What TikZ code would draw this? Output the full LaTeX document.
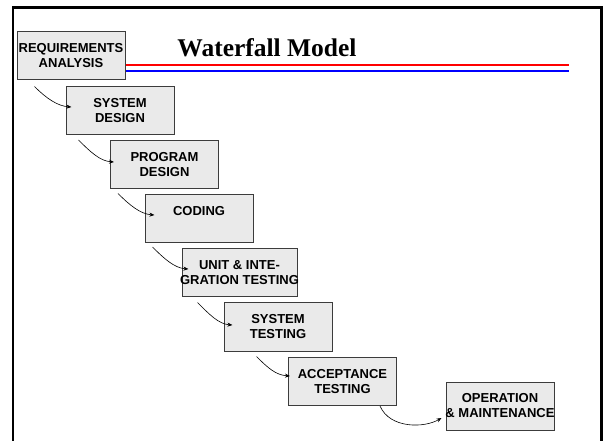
\documentclass[tikz,border=0pt]{standalone}
\usepackage{fontspec}
\setmainfont{Liberation Sans}
\newfontfamily\titlefont{Liberation Serif}
\usetikzlibrary{arrows.meta}
\definecolor{boxgray}{RGB}{234,234,234}
\definecolor{edgegray}{RGB}{60,60,60}
\definecolor{rulered}{RGB}{255,0,0}
\definecolor{ruleblue}{RGB}{0,0,255}

\begin{document}
\begin{tikzpicture}[x=1pt, y=-1pt,
  stage/.style={draw=edgegray, line width=1pt, fill=boxgray, minimum width=108pt, minimum height=48pt,
    inner sep=0pt, align=center, font=\fontsize{13}{15}\selectfont\bfseries},
  flow/.style={line width=0.6pt, -{Stealth[length=5pt,width=4pt]}}]
\useasboundingbox (0,0) rectangle (606,441);

% Frame
\draw[line width=2.7pt] (13,441) -- (13,7.7) -- (601.5,7.7) -- (601.5,441);

% Title and rules
\node[font=\titlefont\bfseries\fontsize{25.5}{30}\selectfont, anchor=base] (title) at (267,56.7) {Waterfall Model};
\draw[rulered, line width=2.5pt] (125,65) -- (569,65);
\draw[ruleblue, line width=2.2pt] (125,71) -- (569,71);

% Stages
\node[stage] (req) at (71,56) {REQUIREMENTS\\ANALYSIS};
\node[stage] (sysdes) at (120,110.5) {SYSTEM\\DESIGN};
\node[stage] (progdes) at (164.5,165) {PROGRAM\\DESIGN};
\node[stage] (coding) at (199,218.5) {CODING\\\phantom{C}};
\node[stage, minimum width=115pt] (unit) at (239.5,273) {UNIT \& INTE-\\\makebox[100pt]{GRATION TESTING}};
\node[stage] (systest) at (278,327) {SYSTEM\\TESTING};
\node[stage] (accept) at (342.5,381.5) {ACCEPTANCE\\TESTING};
\node[stage] (oper) at (500,406) {OPERATION\\\makebox[100pt]{\& MAINTENANCE}};

% Flow between stages
\draw[flow] ([shift={(18,6)}]req.south west) .. controls +(12,12) and +(-14,-1) .. ([shift={(6,-3.5)}]sysdes.west);
\draw[flow] ([shift={(13,5)}]sysdes.south west) .. controls +(12,12) and +(-14,-1) .. ([shift={(4,-3)}]progdes.west);
\draw[flow] ([shift={(8,4)}]progdes.south west) .. controls +(12,12) and +(-14,-1) .. ([shift={(10,-3.5)}]coding.west);
\draw[flow] ([shift={(8,4)}]coding.south west) .. controls +(12,12) and +(-14,-1) .. ([shift={(7,-4)}]unit.west);
\draw[flow] ([shift={(16,5)}]unit.south west) .. controls +(12,12) and +(-14,-1) .. ([shift={(9,-2)}]systest.west);
\draw[flow] ([shift={(33,5)}]systest.south west) .. controls +(12,12) and +(-14,-1) .. ([shift={(2,-5.5)}]accept.west);
\draw[flow] ([shift={(92,0)}]accept.south west) .. controls +(10,23) and +(-17,10) .. ([shift={(-4,12)}]oper.west);
\end{tikzpicture}
\end{document}
